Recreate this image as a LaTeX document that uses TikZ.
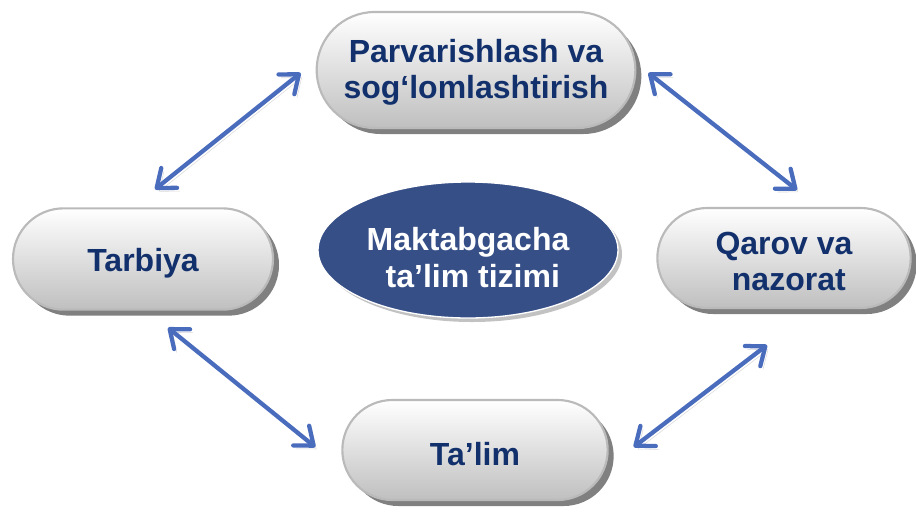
\documentclass[tikz,border=0pt]{standalone}
\usepackage{fontspec}
\setmainfont{Liberation Sans}
\usepackage{tikz}
\usetikzlibrary{shapes.geometric,shapes.misc,arrows.meta,positioning,calc,shadows}
\definecolor{navytext}{HTML}{12306C}
\definecolor{arrowblue}{HTML}{4A6CBD}
\definecolor{ovalblue}{HTML}{364F87}
\newcommand{\lift}[1]{\rule{0pt}{#1}}
\tikzstyle{pill} = [rounded rectangle, draw=black!27, line width=1.6pt, top color=white, bottom color=black!25, text=navytext, font=\fontsize{24}{27.5}\selectfont\bfseries, align=center, inner sep=0pt, execute at begin node={\lift{23pt}}, drop shadow={shadow xshift=4.5pt, shadow yshift=-4.5pt, fill=black!50, opacity=1}]
\tikzstyle{oval} = [ellipse, fill=ovalblue, draw=white, line width=1pt, text=white, font=\fontsize{24}{28}\selectfont\bfseries, align=center, inner sep=0pt, minimum width=225pt, minimum height=102pt, drop shadow={shadow xshift=3pt, shadow yshift=-3pt, fill=black!40, opacity=0.6}]
\tikzstyle{link} = [arrowblue, line width=3.2pt, {Straight Barb[round,length=12pt,width=19pt]}-{Straight Barb[round,length=12pt,width=19pt]}, preaction={draw=black!60, opacity=0.25, transform canvas={shift={(2pt,-2.5pt)}}}]

\begin{document}
\begin{tikzpicture}[x=0.75pt, y=-0.75pt]
    \useasboundingbox (0,0) rectangle (916,511);
    % markaz
    \node[oval] (tizim) at (468,250) {\lift{29pt}Maktabgacha\\\hspace*{.3em}ta’lim tizimi};

    % atrofdagi bloklar
    \node[pill, minimum width=239pt, minimum height=87pt] (parvarish) at (476,70) {\lift{21pt}Parvarishlash va\\sog‘lomlashtirish};
    \node[pill, minimum width=195pt, minimum height=76pt] (tarbiya) at (143,259) {Tarbiya};
    \node[pill, minimum width=190pt, minimum height=75pt] (qarov) at (784,258) {\lift{22pt}Qarov va\\\hspace*{.3em}nazorat};
    \node[pill, minimum width=199pt, minimum height=75pt] (talim) at (475,450) {Ta’lim};

    % ikki tomonlama strelkalar
    \draw[link] ($(tarbiya.north)+(12,-18)$) -- ($(parvarish.west)+(-15,3)$);
    \draw[link] ($(parvarish.east)+(12,3)$) -- ($(qarov.north)+(13,-17)$);
    \draw[link] ($(tarbiya.south)+(25,17)$) -- ($(talim.west)+(-26,-3)$);
    \draw[link] ($(talim.east)+(25,-3)$) -- ($(qarov.south)+(-17,36)$);
\end{tikzpicture}
\end{document}
